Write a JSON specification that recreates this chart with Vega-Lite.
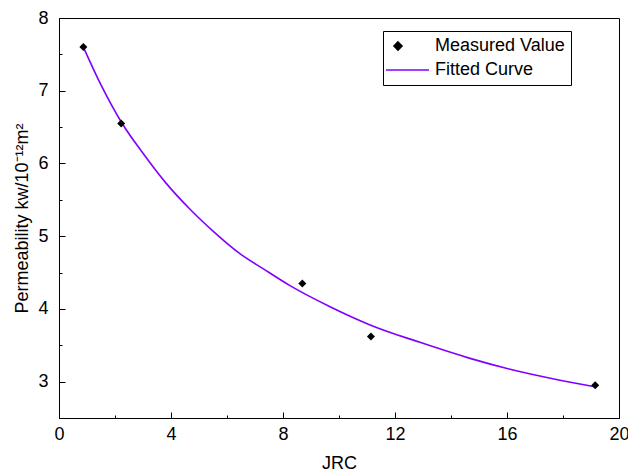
{
  "$schema": "https://vega.github.io/schema/vega-lite/v6.json",
  "autosize": {"type": "none"},
  "padding": {"left": 59, "top": 18, "right": 9, "bottom": 57},
  "width": 560,
  "height": 400,
  "background": "white",
  "config": {
    "font": "Liberation Sans",
    "view": {"stroke": "black", "strokeWidth": 1},
    "axis": {
      "domainColor": "black", "domainWidth": 1, "tickColor": "black", "tickWidth": 1,
      "labelColor": "black", "titleColor": "black", "labelFont": "Liberation Sans",
      "titleFont": "Liberation Sans", "labelFontSize": 18, "titleFontSize": 18,
      "titleFontWeight": "normal", "grid": false, "labelOverlap": false
    },
    "legend": {
      "labelFontSize": 18, "labelFont": "Liberation Sans", "labelColor": "black"
    }
  },
  "datasets": {
    "measured": [
      {"jrc": 0.87, "k": 7.6, "series": "Measured Value"},
      {"jrc": 2.22, "k": 6.55, "series": "Measured Value"},
      {"jrc": 8.69, "k": 4.35, "series": "Measured Value"},
      {"jrc": 11.14, "k": 3.62, "series": "Measured Value"},
      {"jrc": 19.15, "k": 2.95, "series": "Measured Value"}
    ],
    "fitted": [
      {"jrc": 0.87, "k": 7.6, "series": "Fitted Curve"},
      {"jrc": 1.5, "k": 7.08, "series": "Fitted Curve"},
      {"jrc": 2.24, "k": 6.56, "series": "Fitted Curve"},
      {"jrc": 3.0, "k": 6.14, "series": "Fitted Curve"},
      {"jrc": 3.8, "k": 5.74, "series": "Fitted Curve"},
      {"jrc": 4.68, "k": 5.37, "series": "Fitted Curve"},
      {"jrc": 5.5, "k": 5.07, "series": "Fitted Curve"},
      {"jrc": 6.46, "k": 4.76, "series": "Fitted Curve"},
      {"jrc": 7.3, "k": 4.55, "series": "Fitted Curve"},
      {"jrc": 8.25, "k": 4.32, "series": "Fitted Curve"},
      {"jrc": 9.68, "k": 4.03, "series": "Fitted Curve"},
      {"jrc": 11.11, "k": 3.78, "series": "Fitted Curve"},
      {"jrc": 12.89, "k": 3.54, "series": "Fitted Curve"},
      {"jrc": 14.68, "k": 3.32, "series": "Fitted Curve"},
      {"jrc": 16.11, "k": 3.17, "series": "Fitted Curve"},
      {"jrc": 17.89, "k": 3.02, "series": "Fitted Curve"},
      {"jrc": 19.14, "k": 2.93, "series": "Fitted Curve"}
    ]
  },
  "layer": [
    {
      "data": {"name": "fitted"},
      "mark": {"type": "line", "strokeWidth": 1.6, "interpolate": "monotone"},
      "encoding": {
        "x": {
          "field": "jrc", "type": "quantitative",
          "scale": {"domain": [0, 20], "nice": false, "zero": false},
          "axis": {
            "title": "JRC", "values": [0, 2, 4, 6, 8, 10, 12, 14, 16, 18, 20],
            "labelExpr": "datum.value % 4 === 0 ? datum.label : ''",
            "tickSize": {"condition": {"test": "datum.value % 4 === 0", "value": -6}, "value": -3},
            "labelPadding": 13, "titlePadding": 8, "labelFlush": false, "labelOverlap": false
          }
        },
        "y": {
          "field": "k", "type": "quantitative",
          "scale": {"domain": [2.5, 8], "nice": false, "zero": false},
          "axis": {
            "title": "Permeability kw/10⁻¹²m²",
            "values": [2.5, 3, 3.5, 4, 4.5, 5, 5.5, 6, 6.5, 7, 7.5, 8],
            "labelExpr": "datum.value == 3 || datum.value == 4 || datum.value == 5 || datum.value == 6 || datum.value == 7 || datum.value == 8 ? '' + datum.value : ''",
            "tickSize": {"condition": {"test": "datum.value % 1 === 0", "value": -6}, "value": -3},
            "labelPadding": 17, "titlePadding": 6, "labelFlush": false, "labelOverlap": false
          }
        },
        "color": {
          "field": "series", "type": "nominal",
          "scale": {"domain": ["Measured Value", "Fitted Curve"], "range": ["black", "#8000ff"]},
          "legend": {
            "title": null, "orient": "none", "legendX": 324, "legendY": 13,
            "strokeColor": "black", "fillColor": "white", "padding": 6,
            "rowPadding": 6, "symbolSize": 100, "labelOffset": 28, "symbolStrokeWidth": 1.6
          }
        }
      }
    },
    {
      "data": {"name": "measured"},
      "mark": {"type": "point", "filled": true, "opacity": 1, "size": 100},
      "encoding": {
        "x": {
          "field": "jrc", "type": "quantitative",
          "scale": {"domain": [0, 20], "nice": false, "zero": false},
          "axis": {
            "title": "JRC", "values": [0, 2, 4, 6, 8, 10, 12, 14, 16, 18, 20],
            "labelExpr": "datum.value % 4 === 0 ? datum.label : ''",
            "tickSize": {"condition": {"test": "datum.value % 4 === 0", "value": -6}, "value": -3},
            "labelPadding": 13, "titlePadding": 8, "labelFlush": false, "labelOverlap": false
          }
        },
        "y": {
          "field": "k", "type": "quantitative",
          "scale": {"domain": [2.5, 8], "nice": false, "zero": false},
          "axis": {
            "title": "Permeability kw/10⁻¹²m²",
            "values": [2.5, 3, 3.5, 4, 4.5, 5, 5.5, 6, 6.5, 7, 7.5, 8],
            "labelExpr": "datum.value == 3 || datum.value == 4 || datum.value == 5 || datum.value == 6 || datum.value == 7 || datum.value == 8 ? '' + datum.value : ''",
            "tickSize": {"condition": {"test": "datum.value % 1 === 0", "value": -6}, "value": -3},
            "labelPadding": 17, "titlePadding": 6, "labelFlush": false, "labelOverlap": false
          }
        },
        "shape": {
          "field": "series", "type": "nominal",
          "scale": {"domain": ["Measured Value", "Fitted Curve"], "range": ["M0,-0.8L0.8,0L0,0.8L-0.8,0Z", "M-2.4,0L6.2,0"]},
          "legend": {
            "title": null, "orient": "none", "legendX": 324, "legendY": 13,
            "strokeColor": "black", "fillColor": "white", "padding": 6,
            "rowPadding": 6, "symbolSize": 100, "labelOffset": 28, "symbolStrokeWidth": 1.6
          }
        },
        "color": {
          "field": "series", "type": "nominal",
          "scale": {"domain": ["Measured Value", "Fitted Curve"], "range": ["black", "#8000ff"]},
          "legend": {
            "title": null, "orient": "none", "legendX": 324, "legendY": 13,
            "strokeColor": "black", "fillColor": "white", "padding": 6,
            "rowPadding": 6, "symbolSize": 100, "labelOffset": 28, "symbolStrokeWidth": 1.6
          }
        }
      }
    }
  ]
}
